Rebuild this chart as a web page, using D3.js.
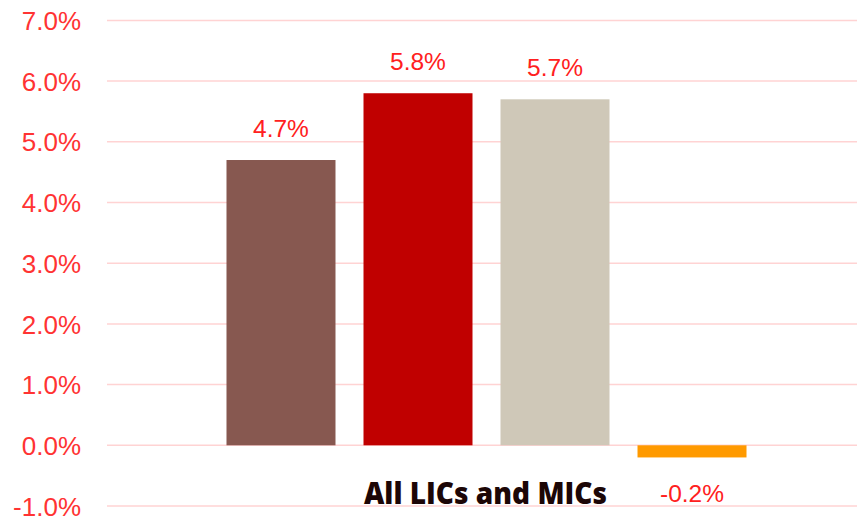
<!DOCTYPE html>
<html><head><meta charset="utf-8">
<script src="https://cdn.jsdelivr.net/npm/d3@7"></script>
<style>html,body{margin:0;padding:0;background:#fff;}svg{display:block;}</style>
</head><body>
<svg id="c" width="857" height="518"></svg>
<script>
const categories = ["All LICs and MICs"];
const seriesNames = ["Series 1", "Series 2", "Series 3", "Series 4"];
const seriesValues = [4.7, 5.8, 5.7, -0.2];
const seriesColors = ["#875850", "#C00000", "#CFC8B8", "#FF9A00"];
const yTicks = [-1, 0, 1, 2, 3, 4, 5, 6, 7];

const svg = d3.select("#c");
const W = 857, H = 518;
const left = 107, right = 866;
const y = d3.scaleLinear().domain([-1, 7]).range([506, 20.4]);
const x0 = d3.scaleBand().domain(categories).range([left, right]).paddingInner(0).paddingOuter(0.2298);
const x1 = d3.scaleBand().domain(seriesNames).range([0, x0.bandwidth()]).paddingInner(0.2044).paddingOuter(0);

// gridlines
svg.append("g").selectAll("line").data(yTicks).join("line")
  .attr("x1", left).attr("x2", W)
  .attr("y1", d => y(d)).attr("y2", d => y(d))
  .attr("stroke", "#FFD3D3").attr("stroke-width", 1.5);

// axis labels
const fmt = d => d.toFixed(1) + "%";
svg.append("g").selectAll("text").data(yTicks).join("text")
  .attr("x", 81).attr("y", d => y(d) + 9.6)
  .attr("text-anchor", "end")
  .attr("font-family", "Liberation Sans, Arial, sans-serif")
  .attr("font-size", 26).attr("fill", "#FF3333")
  .text(fmt);

const data = seriesNames.map((s, i) => ({name: s, value: seriesValues[i], color: seriesColors[i], cat: categories[0]}));

const g = svg.append("g");
g.selectAll("rect").data(data).join("rect")
  .attr("x", d => x0(d.cat) + x1(d.name))
  .attr("width", x1.bandwidth())
  .attr("y", d => y(Math.max(0, d.value)))
  .attr("height", d => Math.abs(y(d.value) - y(0)))
  .attr("fill", d => d.color);

g.selectAll("text.val").data(data).join("text").attr("class", "val")
  .attr("x", d => x0(d.cat) + x1(d.name) + x1.bandwidth() / 2)
  .attr("y", d => d.value >= 0 ? y(d.value) - 23 : y(d.value) + 45)
  .attr("text-anchor", "middle")
  .attr("font-family", "Liberation Sans, Arial, sans-serif")
  .attr("font-size", 24.5).attr("fill", "#FF2020")
  .text(d => d.value.toFixed(1) + "%");

// category label
svg.append("g").selectAll("text").data(categories).join("text")
  .attr("x", d => x0(d) + x0.bandwidth() / 2 - 1)
  .attr("y", 503.5)
  .attr("text-anchor", "middle")
  .attr("font-family", "Open Sans, Lato, sans-serif")
  .attr("font-weight", 800)
  .attr("font-size", 30)
  .attr("textLength", 243).attr("lengthAdjust", "spacingAndGlyphs")
  .attr("fill", "#1C0606")
  .text(d => d);
</script>
</body></html>
